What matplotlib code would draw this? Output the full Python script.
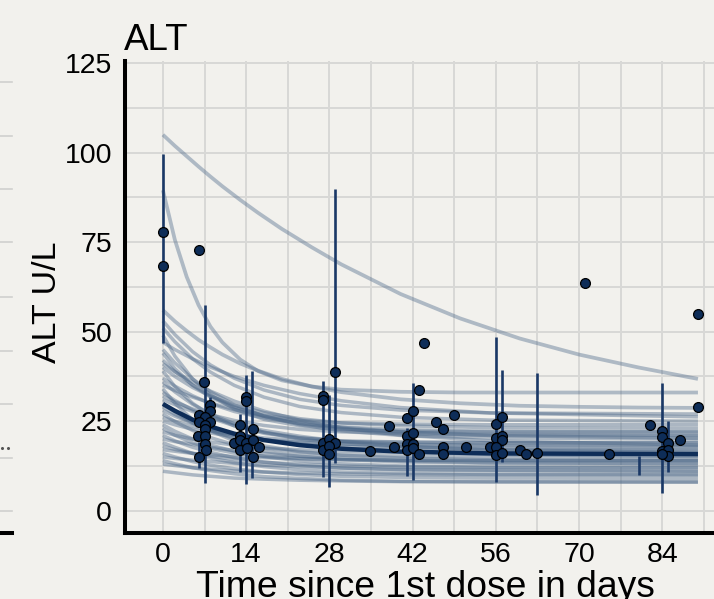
import matplotlib
matplotlib.use('Agg')
import matplotlib.pyplot as plt
from matplotlib.lines import Line2D

plt.rcParams['font.family'] = ['Liberation Sans', 'DejaVu Sans']

# ---------------- data ----------------
BAND_DAYS = [0, 2, 5, 8, 12, 17, 23, 30, 40, 55, 90]
band_curves = [
    [53, 49.2, 44.4, 40.7, 37.0, 33.7, 31.1, 29.4, 28.1, 27.3, 27.0],
    [51, 47.2, 42.4, 38.7, 35.0, 31.7, 29.1, 27.4, 26.1, 25.3, 25.0],
    [49, 43.2, 36.8, 32.3, 28.4, 25.5, 23.7, 22.7, 22.2, 22.0, 22.0],
    [47, 45.0, 42.4, 40.1, 37.5, 35.0, 32.7, 30.7, 28.8, 27.3, 26.2],
    [45, 41.3, 36.8, 33.2, 29.6, 26.4, 24.0, 22.3, 21.0, 20.3, 20.0],
    [44, 39.7, 35.0, 31.7, 28.7, 26.6, 25.3, 24.5, 24.2, 24.0, 24.0],
    [42, 38.9, 35.1, 32.1, 29.0, 26.4, 24.3, 22.9, 21.9, 21.3, 21.0],
    [41, 38.8, 35.9, 33.4, 30.6, 27.8, 25.3, 23.1, 21.1, 19.5, 18.3],
    [40, 37.5, 34.4, 32.0, 29.5, 27.4, 25.7, 24.5, 23.7, 23.2, 23.0],
    [39, 34.7, 30.0, 26.7, 23.7, 21.6, 20.3, 19.5, 19.2, 19.0, 19.0],
    [37, 34.8, 32.1, 29.9, 27.7, 25.9, 24.4, 23.4, 22.6, 22.2, 22.0],
    [36, 33.2, 29.7, 27.0, 24.3, 21.9, 20.0, 18.7, 17.8, 17.2, 17.0],
    [35, 33.6, 31.7, 30.1, 28.2, 26.4, 24.8, 23.3, 22.0, 21.0, 20.2],
    [34, 30.0, 25.4, 22.3, 19.5, 17.5, 16.2, 15.5, 15.2, 15.0, 15.0],
    [33, 30.8, 28.1, 25.9, 23.7, 21.9, 20.4, 19.4, 18.6, 18.2, 18.0],
    [32, 30.4, 28.4, 26.8, 25.2, 23.8, 22.7, 22.0, 21.5, 21.1, 21.0],
    [31, 29.6, 27.7, 26.1, 24.2, 22.4, 20.8, 19.3, 18.0, 17.0, 16.2],
    [30, 27.6, 24.7, 22.4, 20.1, 18.1, 16.5, 15.5, 14.7, 14.2, 14.0],
    [29, 26.9, 24.5, 22.8, 21.4, 20.3, 19.6, 19.3, 19.1, 19.0, 19.0],
    [28, 26.4, 24.4, 22.8, 21.2, 19.8, 18.7, 18.0, 17.5, 17.1, 17.0],
    [27, 24.9, 22.4, 20.4, 18.4, 16.6, 15.2, 14.3, 13.6, 13.2, 13.0],
    [26, 25.0, 23.6, 22.4, 21.0, 19.7, 18.5, 17.5, 16.5, 15.7, 15.1],
    [25, 24.0, 22.7, 21.7, 20.7, 19.8, 19.1, 18.6, 18.3, 18.1, 18.0],
    [24, 22.2, 20.0, 18.3, 16.6, 15.1, 13.9, 13.1, 12.5, 12.1, 12.0],
    [23, 21.1, 18.9, 17.4, 16.1, 15.2, 14.6, 14.2, 14.1, 14.0, 14.0],
    [22, 21.1, 20.0, 19.2, 18.3, 17.5, 17.0, 16.5, 16.2, 16.1, 16.0],
    [21, 19.5, 17.7, 16.3, 14.8, 13.6, 12.6, 11.9, 11.4, 11.1, 11.0],
    [20, 19.3, 18.5, 17.7, 16.8, 16.0, 15.2, 14.6, 13.9, 13.4, 13.1],
    [19, 17.7, 16.0, 14.7, 13.4, 12.3, 11.4, 10.8, 10.4, 10.1, 10.0],
    [18, 17.1, 16.0, 15.2, 14.3, 13.5, 13.0, 12.5, 12.2, 12.1, 12.0],
    [17, 16.6, 16.0, 15.6, 15.1, 14.8, 14.5, 14.3, 14.1, 14.0, 14.0],
    [16, 15.0, 13.7, 12.7, 11.7, 10.8, 10.1, 9.6, 9.3, 9.1, 9.0],
    [15, 14.6, 14.1, 13.7, 13.2, 12.7, 12.3, 11.9, 11.5, 11.3, 11.0],
    [14, 13.1, 12.0, 11.2, 10.3, 9.5, 9.0, 8.5, 8.2, 8.1, 8.0],
    [13, 12.6, 12.0, 11.6, 11.1, 10.8, 10.5, 10.3, 10.1, 10.0, 10.0],
    [11, 10.6, 10.0, 9.6, 9.1, 8.8, 8.5, 8.3, 8.1, 8.0, 8.0],
]
mean_curve = [29.8, 27.9, 25.4, 23.5, 21.5, 19.7, 18.3, 17.3, 16.5, 16.0, 15.8]

OUT_DAYS = [0, 2, 4, 6, 8, 10, 13, 16, 20, 25, 30, 40, 50, 60, 70, 80, 90]
outlier_curves = [
    [105, 101.9, 99.0, 96.1, 93.3, 90.6, 86.8, 83.2, 78.7, 73.6, 68.8, 60.5, 53.7, 48.1, 43.6, 40.0, 36.8],
    [89.5, 75.7, 65.3, 57.4, 51.4, 47.0, 42.2, 39.0, 36.4, 34.7, 33.8, 33.2, 33.0, 33.0, 33.0, 33.0, 33.0],
    [56, 52.9, 50.2, 47.7, 45.6, 43.6, 41.1, 39.1, 36.8, 34.7, 33.1, 31.1, 30.0, 29.3, 29.0, 28.8, 28.7],
]

obs_day = [0, 0, 6.0,
           6.9, 8.0, 8.0, 6.0, 7.0, 6.0, 8.0, 7.0, 7.0, 5.9, 7.1, 7.1, 7.2, 6.0,
           14.0, 14.0, 13.0, 15.1, 13.0, 11.9, 13.0, 14.0, 15.1, 13.0, 14.1, 16.1, 15.1,
           29.0, 27.0, 27.0, 27.0, 28.0, 29.0, 27.0, 28.0, 28.0,
           34.9, 38.0, 38.9, 41.1, 41.1, 41.1, 41.1, 42.1, 42.1, 42.1, 42.1, 43.0, 43.0,
           44.0, 46.0, 47.1, 47.1, 47.1, 49.0, 51.0,
           55.0, 56.0, 57.0, 56.0, 57.0, 57.0, 56.0, 56.0, 57.0, 60.1, 61.1, 63.0,
           71.0, 75.0, 82.0, 83.9, 83.9, 85.0, 87.0, 83.9, 85.0, 85.0, 83.9, 90.0, 90.0]
obs_alt = [77.8, 68.4, 72.7,
           35.9, 29.4, 27.8, 26.8, 26.2, 24.9, 24.9, 23.8, 22.7, 20.9, 20.9, 18.7, 16.9, 15.1,
           31.8, 30.7, 23.9, 22.7, 20.8, 19.0, 19.6, 19.0, 19.8, 17.0, 17.4, 17.7, 15.1,
           38.7, 32.0, 30.9, 18.8, 19.9, 18.8, 16.9, 18.0, 15.9,
           16.8, 23.7, 17.8, 25.8, 20.9, 18.5, 17.0, 27.9, 21.6, 18.5, 17.6, 33.7, 15.8,
           46.8, 24.9, 22.8, 17.9, 15.8, 26.8, 17.8,
           17.9, 24.1, 26.2, 20.2, 20.9, 19.6, 17.9, 15.5, 16.0, 17.0, 15.8, 16.2,
           63.7, 15.8, 23.8, 22.2, 20.6, 19.0, 19.7, 16.8, 17.0, 15.4, 15.9, 54.9, 28.9]

bar_day = [0, 6.0, 7.0, 8.0, 14.0, 15.0, 13.0, 27.0, 28.0, 29.0, 41.1, 42.1,
           56.0, 57.0, 63.0, 80.0, 83.9, 85.0]
bar_lo = [46.8, 11.8, 7.6, 27.6, 7.5, 9.1, 10.9, 9.3, 6.7, 13.2, 9.8, 8.6,
          7.9, 13.7, 4.4, 10.0, 5.0, 10.9]
bar_hi = [99.6, 19.1, 57.4, 31.8, 37.9, 38.9, 27.1, 36.3, 32.3, 89.8, 23.2, 35.6,
          48.4, 39.3, 38.4, 15.3, 35.6, 25.1]

x_ticks = [0, 14, 28, 42, 56, 70, 84]
x_minor = [7, 21, 35, 49, 63, 77, 91]
y_ticks = [0, 25, 50, 75, 100, 125]
y_minor = [12.5, 37.5, 62.5, 87.5, 112.5]

# ---------------- styling ----------------
BG = '#f2f1ed'
GRID = '#d8d8d6'
CURVE = '#4a6687'
NAVY = '#0e2d58'
BAR = '#1a3866'

W, H = 714, 599
fig = plt.figure(figsize=(W / 100, H / 100), dpi=100)
fig.patch.set_facecolor(BG)

left_px, bottom_px, top_px = 124.7, 532.5, 61.0
ax = fig.add_axes([left_px / W, (H - bottom_px) / H, 1 - left_px / W, (bottom_px - top_px) / H])
ax.set_facecolor(BG)

for c in band_curves:
    ax.plot(BAND_DAYS, c, color=CURVE, alpha=0.42, lw=2.5, solid_capstyle='butt', zorder=2)
for c in outlier_curves:
    ax.plot(OUT_DAYS, c, color=CURVE, alpha=0.4, lw=2.7, solid_capstyle='butt', zorder=2)
ax.plot(BAND_DAYS, mean_curve, color=NAVY, lw=3.2, zorder=3, solid_capstyle='butt')

ax.vlines(bar_day, bar_lo, bar_hi, color=BAR, lw=1.9, zorder=4)
ax.scatter(obs_day, obs_alt, s=50, facecolor=NAVY, edgecolor='black', linewidths=0.9, zorder=5)

ax.set_xlim(-6.43, 92.7)
ax.set_ylim(-6.1, 125.6)
ax.set_xticks(x_ticks)
ax.set_xticks(x_minor, minor=True)
ax.set_yticks(y_ticks)
ax.set_yticks(y_minor, minor=True)
ax.grid(which='both', color=GRID, lw=1.4, zorder=0)
ax.set_axisbelow(True)
ax.tick_params(which='both', length=0)
ax.tick_params(axis='y', labelsize=20.5, pad=9.0)
ax.tick_params(axis='x', labelsize=20.5, pad=6.5)

for s in ['top', 'right']:
    ax.spines[s].set_visible(False)
for s in ['left', 'bottom']:
    ax.spines[s].set_color('black')
    ax.spines[s].set_linewidth(2.9)

fig.text(124 / W, (H - 50) / H, 'ALT', fontsize=26.5, ha='left', va='baseline')
fig.text(48 / W, (H - 302) / H, 'ALT U/L', fontsize=24.5, rotation=90, ha='center', va='center')
fig.text(425 / W, (H - 596.7) / H, 'Time since 1st dose in days', fontsize=26.8, ha='center', va='baseline')

# remnants of the neighbouring panel at the left edge
for yp in [82.3, 135.7, 189, 242.3, 296.7, 350.7, 404, 457.7, 511]:
    fig.add_artist(Line2D([0, 12 / W], [(H - yp) / H] * 2, transform=fig.transFigure,
                          color='#d0d0ce', lw=1.2))
fig.add_artist(Line2D([0, 12 / W], [(H - 532.7) / H] * 2, transform=fig.transFigure,
                      color='black', lw=2.9))
fig.add_artist(Line2D([1.7 / W, 8.3 / W], [(H - 447.7) / H] * 2, transform=fig.transFigure,
                      ls='none', marker='o', ms=1.2, color='#555555'))

fig.savefig('out.png', dpi=100, facecolor=BG)
